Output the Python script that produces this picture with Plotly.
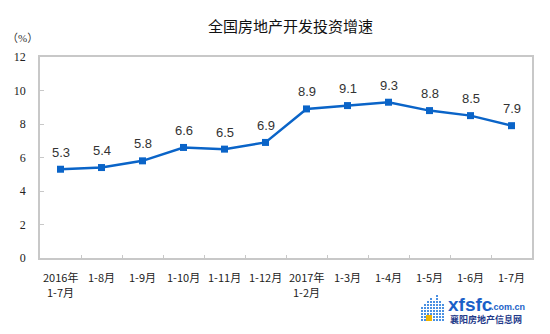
import plotly.graph_objects as go

# 全国房地产开发投资累计增速（%）
categories = ["2016年<br>1-7月", "1-8月", "1-9月", "1-10月", "1-11月", "1-12月",
              "2017年<br>1-2月", "1-3月", "1-4月", "1-5月", "1-6月", "1-7月"]
growth = [5.3, 5.4, 5.8, 6.6, 6.5, 6.9, 8.9, 9.1, 9.3, 8.8, 8.5, 7.9]
y_ticks = [0, 2, 4, 6, 8, 10, 12]

W, H = 550, 334
ML, MR, MT, MB = 40, 18, 57, 76
PW, PH = W - ML - MR, H - MT - MB


def px(x):
    return (x - ML) / PW


def py(y):
    return (H - MB - y) / PH


LINE = "#0a64c8"
AXIS = "#c8c8c8"
XFONT = dict(family="Noto Sans CJK SC", size=11, color="#222222")

fig = go.Figure()
fig.add_trace(go.Scatter(
    x=categories, y=growth, mode="lines+markers",
    line=dict(color=LINE, width=2.5),
    marker=dict(symbol="square", size=7, color=LINE),
    hoverinfo="skip", showlegend=False,
))

annotations = []
for c, v in zip(categories, growth):
    annotations.append(dict(
        x=c, y=v, xref="x", yref="y", text=f"{v:.1f}", showarrow=False,
        yshift=17, font=dict(family="Liberation Sans, Arial", size=13, color="#333333"),
    ))

# 横轴分类标签（逐行放置，行距15px）
for c in categories:
    for i, part in enumerate(c.split("<br>")):
        annotations.append(dict(
            x=c, y=0, xref="x", yref="y", text=part, showarrow=False,
            xanchor="center", yanchor="middle", yshift=-19 - 15 * i, font=XFONT,
        ))


def label(x, y, text, font):
    return dict(x=px(x), y=py(y), xref="paper", yref="paper", text=text,
                showarrow=False, xanchor="center", yanchor="middle", font=font)


# 标题与单位
annotations.append(label(290, 25, "全国房地产开发投资增速",
                         dict(family="Noto Sans CJK SC", size=15, color="#111111")))
annotations.append(label(22, 38, "（%）",
                         dict(family="Liberation Serif, Noto Sans CJK SC", size=11, color="#333333")))

# 网站标识
annotations.append(label(470, 304, "<b>xfsfc</b>",
                         dict(family="Liberation Sans", size=19, color="#1a5fc8")))
annotations.append(label(508, 307, "<b>.com.cn</b>",
                         dict(family="Liberation Sans", size=9, color="#1a5fc8")))
annotations.append(label(486, 319, "<b>襄阳房地产信息网</b>",
                         dict(family="Noto Sans CJK SC", size=9, color="#1f3a8a")))

shapes = []
# 标识图形：像素楼群
cols = [(421, 306), (424, 303), (427, 300), (430, 298), (433, 300), (436, 296), (439, 302), (442, 305)]
for x0, top in cols:
    y = 321
    while y > top:
        shapes.append(dict(type="rect", xref="paper", yref="paper",
                           x0=px(x0), x1=px(x0 + 2), y0=py(y), y1=py(y - 2),
                           line=dict(width=0), fillcolor="#4a90e2"))
        y -= 3
shapes.append(dict(type="rect", xref="paper", yref="paper",
                   x0=px(426), x1=px(432), y0=py(321), y1=py(315),
                   line=dict(width=0), fillcolor="#f0b400"))

fig.update_layout(
    width=W, height=H,
    margin=dict(l=ML, r=MR, t=MT, b=MB),
    paper_bgcolor="white", plot_bgcolor="white",
    annotations=annotations, shapes=shapes,
    xaxis=dict(
        type="category", tickson="boundaries", ticks="inside", ticklen=3,
        tickcolor=AXIS, showline=True, linecolor=AXIS, linewidth=1.5, mirror=True,
        showgrid=False, showticklabels=False,
        range=[-0.5, len(categories) - 0.5],
    ),
    yaxis=dict(
        range=[0, 12], tickvals=y_ticks, ticks="inside", ticklen=4, tickcolor=AXIS,
        showline=True, linecolor=AXIS, linewidth=1.5, mirror=True, showgrid=False,
        zeroline=False, tickfont=dict(family="Liberation Serif", size=12, color="#222222"),
        ticklabelstandoff=10,
    ),
)

fig.write_html("out.html")
